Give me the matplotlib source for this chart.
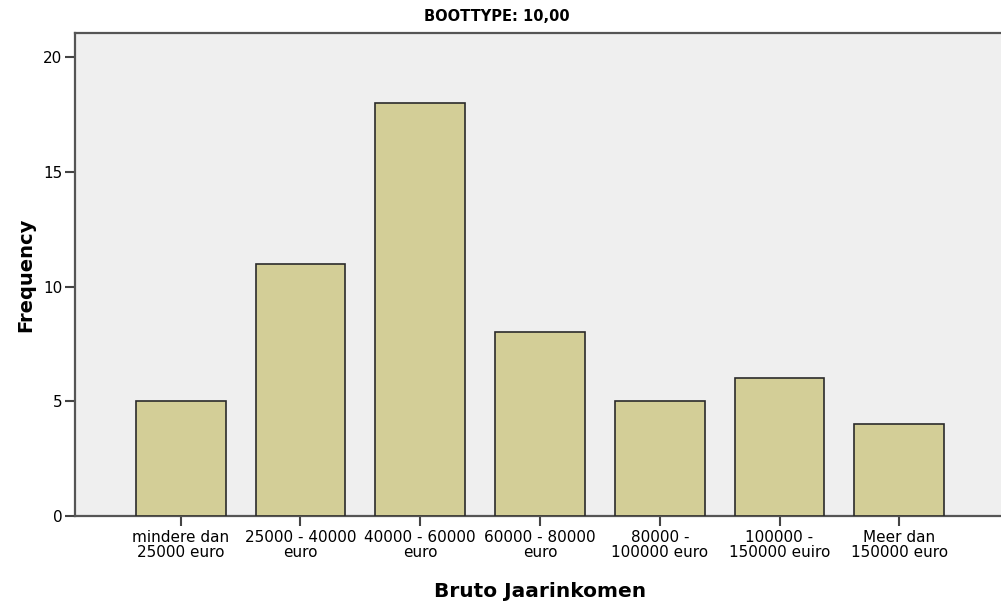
import matplotlib
matplotlib.use("Agg")
import matplotlib.pyplot as plt

categories = ["mindere dan\n25000 euro", "25000 - 40000\neuro", "40000 - 60000\neuro",
              "60000 - 80000\neuro", "80000 -\n100000 euro", "100000 -\n150000 euiro",
              "Meer dan\n150000 euro"]
frequency = [5, 11, 18, 8, 5, 6, 4]
y_ticks = [0, 5, 10, 15, 20]

plt.rcParams["font.family"] = ["DejaVu Sans"]

fig = plt.figure(figsize=(10.01, 6.03), dpi=100)
ax = fig.add_axes([0.0749, 0.1443, 0.93, 0.801])
ax.set_facecolor("#efefef")

x = list(range(len(categories)))
ax.bar(x, frequency, width=0.75, color="#d3ce97", edgecolor="#2b2b2b", linewidth=1.2, zorder=3)

ax.set_xlim(-0.883, 6.89)
ax.set_ylim(0, 21.05)
ax.set_yticks(y_ticks)
ax.set_xticks(x)
ax.set_xticklabels(categories, fontsize=11, linespacing=0.98)
ax.tick_params(axis="y", labelsize=11, length=7, width=1.5, color="#444444", pad=2)
ax.tick_params(axis="x", length=7, width=1.5, color="#444444", pad=3)

for side in ["left", "bottom", "top"]:
    ax.spines[side].set_color("#555555")
    ax.spines[side].set_linewidth(1.6)
ax.spines["right"].set_visible(False)

ax.set_ylabel("Frequency", fontsize=14, fontweight="bold", labelpad=6)
ax.set_xlabel("Bruto Jaarinkomen", fontsize=14.5, fontweight="bold", labelpad=16)
fig.text(0.496, 0.973, "BOOTTYPE: 10,00", ha="center", va="center", fontsize=10.5, fontweight="bold")

fig.savefig("out.png", dpi=100)
